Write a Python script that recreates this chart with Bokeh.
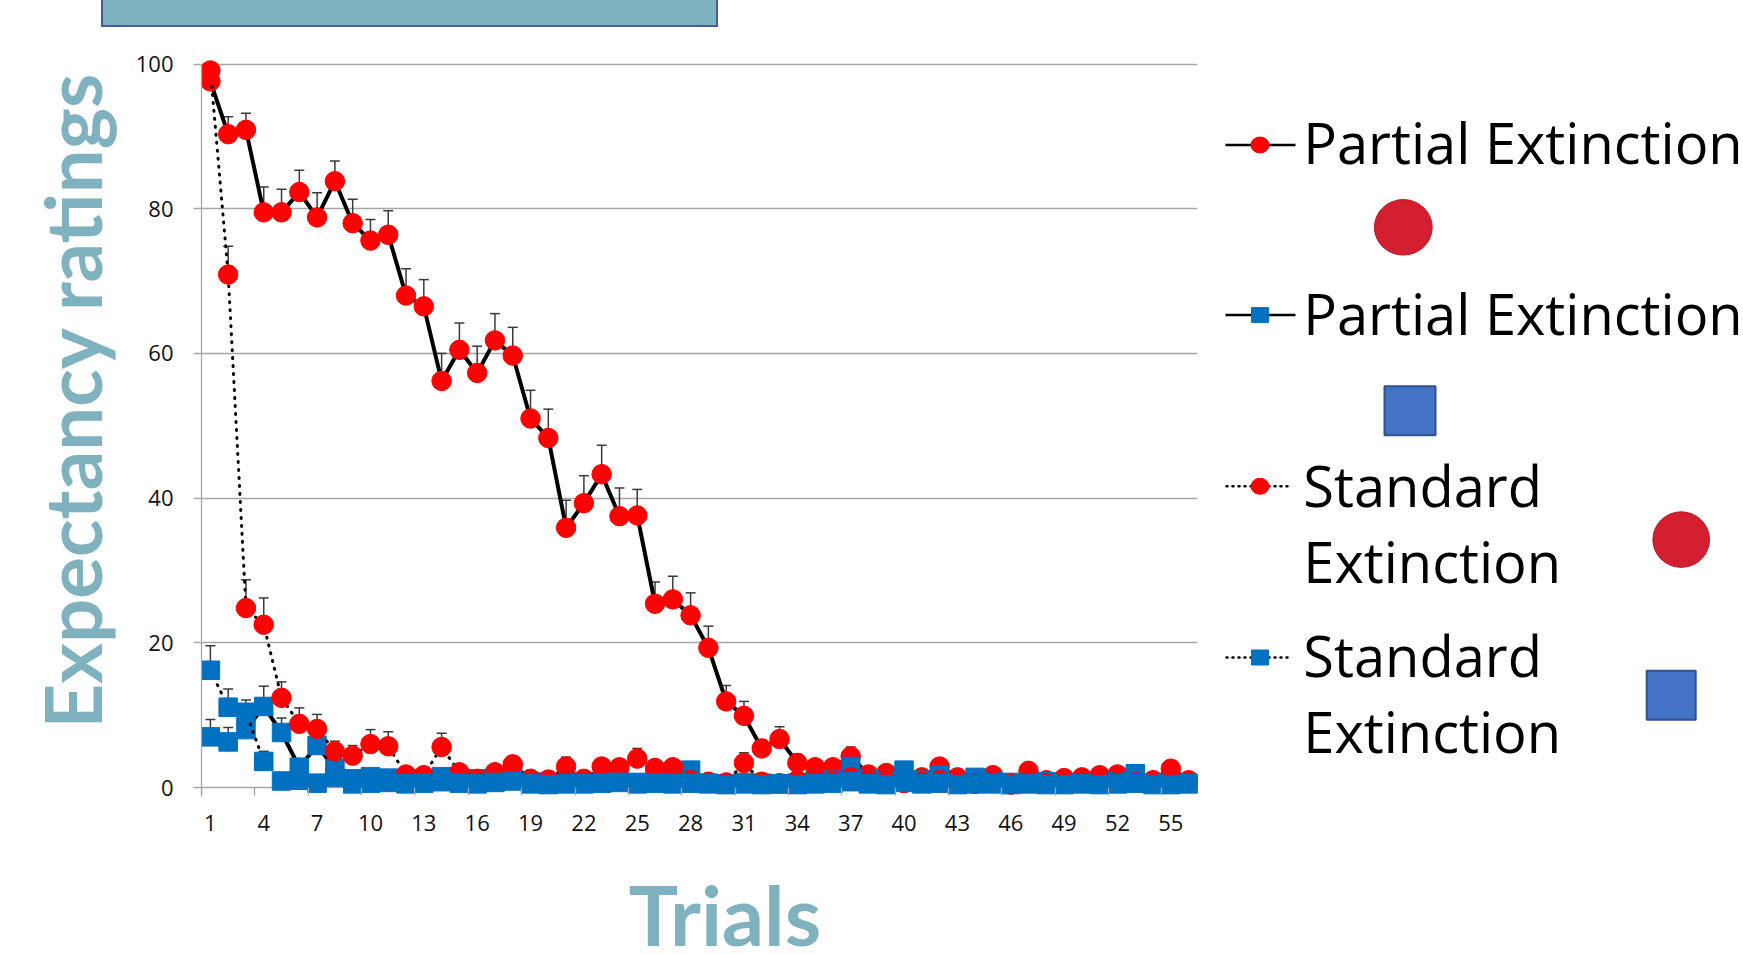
from bokeh.plotting import figure
from bokeh.models import Range1d, FixedTicker, Div, Title
from bokeh.layouts import row, column
from bokeh.embed import file_html
from bokeh.resources import INLINE
from bokeh.core.properties import value

# ---------------- data ----------------
trials = list(range(1, 57))
tick_labels = [1, 4, 7, 10, 13, 16, 19, 22, 25, 28, 31, 34, 37, 40, 43, 46, 49, 52, 55]
boundary_ticks = [0.5 + 3 * k for k in range(19)]

pe_red = [97.6, 90.3, 90.9, 79.5, 79.5, 82.3, 78.8, 83.8, 78.0, 75.6, 76.4, 68.0, 66.5, 56.2,
          60.5, 57.3, 61.8, 59.7, 51.0, 48.3, 35.9, 39.3, 43.3, 37.5, 37.6, 25.4, 26.0, 23.8,
          19.3, 11.9, 9.9, 5.4, 6.7, 3.4, 2.8, 2.8, 4.3, 1.8, 2.0, 0.8, 1.4, 2.9, 1.4, 0.5,
          1.7, 0.4, 2.3, 1.0, 1.3, 1.4, 1.7, 1.8, 1.2, 1.0, 2.6, 1.0]
pe_red_err = [1.0, 2.4, 2.3, 3.5, 3.2, 3.0, 3.4, 2.8, 3.3, 2.9, 3.3, 3.7, 3.7, 3.8, 3.7, 3.7,
              3.7, 3.9, 3.9, 4.0, 3.8, 3.8, 4.0, 3.9, 3.6, 3.0, 3.2, 3.1, 3.0, 2.2, 2.0, 1.2,
              1.7, 1.2, 0.9, 0.9, 1.3, 0.8, 0.8, 0.6, 0.7, 1.0, 0.7, 0.5, 0.7, 0.4, 0.9, 0.6,
              0.6, 0.6, 0.7, 0.7, 0.6, 0.5, 1.1, 0.5]

pe_blue = [7.0, 6.3, 8.0, 11.2, 7.6, 2.8, 5.8, 2.6, 1.2, 1.5, 1.3, 0.8, 1.2, 1.5, 1.0, 1.2,
           0.9, 2.2, 0.8, 0.7, 0.9, 0.6, 0.8, 0.9, 0.7, 1.0, 0.8, 2.4, 0.6, 0.5, 0.7, 0.6,
           0.5, 0.6, 0.9, 1.0, 2.9, 1.1, 0.8, 2.4, 1.0, 1.7, 0.6, 1.4, 0.8, 0.7, 0.6, 0.8,
           0.5, 0.6, 0.7, 0.8, 1.9, 0.6, 0.5, 0.6]
pe_blue_err = [2.4, 2.0, 1.8, 2.8, 2.0, 1.2, 1.5, 1.0, 0.6, 0.7, 0.6, 0.4, 0.5, 0.6, 0.5, 0.5,
               0.4, 0.8, 0.4, 0.4, 0.4, 0.3, 0.4, 0.4, 0.3, 0.4, 0.4, 0.8, 0.3, 0.3, 0.3, 0.3,
               0.3, 0.3, 0.4, 0.4, 0.9, 0.4, 0.3, 0.8, 0.4, 0.6, 0.3, 0.5, 0.3, 0.3, 0.3, 0.3,
               0.3, 0.3, 0.3, 0.3, 0.6, 0.3, 0.3, 0.3]

se_red = [99.1, 70.9, 24.8, 22.5, 12.4, 8.8, 8.1, 5.0, 4.4, 6.0, 5.7, 1.8, 1.7, 5.6, 2.1, 1.2,
          2.1, 3.2, 1.2, 1.1, 2.9, 1.2, 2.9, 2.8, 4.0, 2.7, 2.8, 1.0, 0.8, 0.7, 3.4, 0.8, 0.6,
          1.0, 1.2, 0.9, 1.4, 1.1, 0.9, 0.6, 0.8, 1.0, 0.7, 0.6, 0.8, 0.5, 0.7, 0.6, 0.8, 0.9,
          1.0, 0.8, 0.7, 0.6, 0.9, 0.7]
se_red_err = [0.8, 3.9, 3.9, 3.7, 2.2, 2.2, 2.0, 1.4, 1.4, 2.0, 2.0, 0.6, 0.6, 1.9, 0.8, 0.5,
              0.7, 1.1, 0.5, 0.5, 1.3, 0.5, 1.0, 1.0, 1.4, 1.0, 1.0, 0.5, 0.4, 0.4, 1.4, 0.4,
              0.4, 0.5, 0.5, 0.4, 0.5, 0.5, 0.4, 0.4, 0.4, 0.5, 0.4, 0.4, 0.4, 0.3, 0.4, 0.4,
              0.4, 0.4, 0.5, 0.4, 0.4, 0.4, 0.4, 0.4]

se_blue = [16.2, 11.1, 10.4, 3.6, 0.9, 1.0, 0.6, 1.4, 0.5, 0.6, 0.7, 0.5, 0.6, 0.8, 0.6, 0.5,
           0.7, 0.9, 0.5, 0.4, 0.5, 0.5, 0.6, 0.7, 0.5, 0.6, 0.5, 0.6, 0.5, 0.4, 0.5, 0.4,
           0.5, 0.4, 0.5, 0.6, 0.8, 0.5, 0.4, 0.7, 0.5, 0.6, 0.4, 0.5, 0.5, 0.4, 0.5, 0.4,
           0.4, 0.5, 0.4, 0.5, 0.6, 0.4, 0.4, 0.5]
se_blue_err = [3.4, 2.5, 1.7, 1.4, 0.5, 0.5, 0.3, 0.6, 0.3, 0.3, 0.3, 0.3, 0.3, 0.4, 0.3, 0.3,
               0.3, 0.4, 0.3, 0.3, 0.3, 0.3, 0.3, 0.3, 0.3, 0.3, 0.3, 0.3, 0.3, 0.3, 0.3, 0.3,
               0.3, 0.3, 0.3, 0.3, 0.4, 0.3, 0.3, 0.3, 0.3, 0.3, 0.3, 0.3, 0.3, 0.3, 0.3, 0.3,
               0.3, 0.3, 0.3, 0.3, 0.3, 0.3, 0.3, 0.3]

legend_labels = ["Partial Extinction", "Partial Extinction", "Standard\nExtinction", "Standard\nExtinction"]
y_title = "Expectancy ratings"
x_title = "Trials"

# ---------------- styles ----------------
RED = "#ff0000"
BLUE = "#0070c0"
TEAL = "#7fb1bf"
GRID = "#a6a6a6"
ERR = "#3a3a3a"

BANNER_H = 31
FIG_H = 953 - BANNER_H
TOP_B = 50 - BANNER_H
Y1 = 101.866
Y0 = Y1 - 903 / 7.235

# ---------------- main chart ----------------
p = figure(width=1218, height=FIG_H, x_range=Range1d(0.5, 56.5), y_range=Range1d(Y0, Y1),
           toolbar_location=None, output_backend="svg",
           min_border_left=201, min_border_right=21, min_border_top=TOP_B, min_border_bottom=0)
p.outline_line_color = None

p.xgrid.visible = False
p.ygrid.ticker = FixedTicker(ticks=[0, 20, 40, 60, 80, 100])
p.ygrid.grid_line_color = GRID
p.ygrid.grid_line_width = 1.3

p.xaxis.fixed_location = 0
p.xaxis.ticker = FixedTicker(ticks=tick_labels, minor_ticks=boundary_ticks)
p.xaxis.axis_line_color = None
p.xaxis.major_tick_line_color = None
p.xaxis.minor_tick_line_color = GRID
p.xaxis.minor_tick_line_width = 1.3
p.xaxis.minor_tick_in = 0
p.xaxis.minor_tick_out = 8
p.xaxis.major_tick_in = 0
p.xaxis.major_tick_out = 0
p.xaxis.major_label_standoff = 19
p.xaxis.major_label_text_font = "Open Sans"
p.xaxis.major_label_text_font_size = "22px"
p.xaxis.major_label_text_color = "#111111"

p.yaxis.ticker = FixedTicker(ticks=[0, 20, 40, 60, 80, 100], minor_ticks=[])
p.yaxis.bounds = (-1.244, 100)
p.yaxis.axis_line_color = GRID
p.yaxis.axis_line_width = 1.3
p.yaxis.major_tick_line_color = GRID
p.yaxis.major_tick_line_width = 1.3
p.yaxis.major_tick_in = 0
p.yaxis.major_tick_out = 8
p.yaxis.major_label_standoff = 20
p.yaxis.major_label_text_font = "Open Sans"
p.yaxis.major_label_text_font_size = "22px"
p.yaxis.major_label_text_color = "#111111"


def draw_series(vals, errs, color, marker, size, dash):
    up = [v + e for v, e in zip(vals, errs)]
    p.segment(x0=trials, y0=vals, x1=trials, y1=up, line_color=ERR, line_width=1.5)
    p.scatter(x=trials, y=up, marker="dash", size=10, line_color=ERR, line_width=1.5)
    if dash:
        p.line(trials, vals, line_color="black", line_width=3, line_dash="1 7", line_cap="round")
    else:
        p.line(trials, vals, line_color="black", line_width=4, line_join="round")
    p.scatter(x=trials, y=vals, marker=marker, size=size, fill_color=color, line_color=color)


draw_series(pe_red, pe_red_err, RED, "circle", 19.5, False)
draw_series(pe_blue, pe_blue_err, BLUE, "square", 18.5, False)
draw_series(se_red, se_red_err, RED, "circle", 19.5, True)
draw_series(se_blue, se_blue_err, BLUE, "square", 18.5, True)

# axis titles
p.add_layout(Title(text=y_title, align="left", offset=225, standoff=28, text_font="Lato",
                   text_font_style="bold", text_font_size="78px", text_color=TEAL), "left")
p.text(x=[24.51], y=[-17.45], text=[x_title], text_align="left", text_baseline="alphabetic",
       text_font=value("Lato"), text_font_style="bold", text_font_size="83px", text_color=TEAL)

# ---------------- legend panel (page pixel coordinates) ----------------
lg = figure(width=1742 - 1218, height=FIG_H, x_range=Range1d(1218, 1742), y_range=Range1d(953, 50),
            toolbar_location=None, output_backend="svg", x_axis_location=None,
            y_axis_location=None, min_border_left=0, min_border_right=0,
            min_border_top=TOP_B, min_border_bottom=0)
lg.outline_line_color = None
lg.grid.visible = False

entry_y = [144.5, 314.6, 485.8, 657.0]
text_y = [141.0, 312.0, 484.5, 654.5]
line_h = 75.6
styles = [(RED, "circle", False), (BLUE, "square", False), (RED, "circle", True), (BLUE, "square", True)]
for lab, ey, ty, (col, mk, dash) in zip(legend_labels, entry_y, text_y, styles):
    if dash:
        lg.line([1226, 1289], [ey, ey], line_color="black", line_width=2.5, line_dash="1 5", line_cap="round")
    else:
        lg.line([1225, 1295], [ey, ey], line_color="black", line_width=2.5)
    if mk == "circle":
        lg.ellipse(x=[1259.5], y=[ey], width=18, height=16, fill_color=col, line_color=col)
    else:
        lg.rect(x=[1259.5], y=[ey], width=17, height=15, fill_color=col, line_color=col)
    for i, part in enumerate(lab.split("\n")):
        lg.text(x=[1302.8], y=[ty + i * line_h], text=[part], text_baseline="alphabetic",
                text_align="left", text_font=value("Open Sans"), text_font_size="56px",
                text_color="black")

# decorative shapes next to the legend
lg.ellipse(x=[1402.8, 1680.7], y=[226.8, 539.1], width=[57.8, 56.7], height=[55.6, 55.6],
           fill_color="#d31f2f", line_color="#b81a28", line_width=1)
lg.rect(x=[1409.5, 1670.7], y=[410.2, 694.8], width=[51, 49], height=[49, 49],
        fill_color="#4472c4", line_color="#2f528f", line_width=2)

# ---------------- top banner ----------------
banner = Div(text='<div style="margin-left:101px;width:617px;height:27px;background:#7fb2bf;'
                  'border:2px solid #3f5f9e;border-top:none;"></div>',
             width=1742, height=BANNER_H, margin=0)

layout = column(banner, row(p, lg, spacing=0), spacing=0)
open("out.html", "w").write(file_html(layout, INLINE))
